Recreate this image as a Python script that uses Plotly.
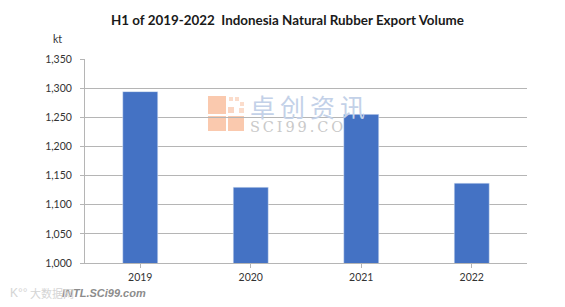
import plotly.graph_objects as go

categories = ["2019", "2020", "2021", "2022"]
export_volume = [1294, 1130, 1255, 1137]
tick_values = [1000, 1050, 1100, 1150, 1200, 1250, 1300, 1350]
title_text = "H1 of 2019-2022  Indonesia Natural Rubber Export Volume"

# page has an 8 px body margin, so the figure is 8 px smaller than the window
W, H = 557, 299
L, R, T, B = 85, 527, 59, 263   # plot area in window pixels
FONT = "Lato, Open Sans, sans-serif"
PW, PH = R - L, B - T

def fx(x): return (x - L) / PW
def fy(y): return (B - y) / PH

fig = go.Figure(go.Bar(x=categories, y=export_volume, marker_color="#4472C4", width=0.317))

shapes = []
for x0, y0, x1, y1, c in [
    (208, 96, 226, 114, "#FAC9AE"),
    (208, 116, 226, 131, "#FAC9AE"),
    (228, 116, 244, 131, "#FAC9AE"),
    (228, 107, 234, 113, "#FAD5C2"),
    (229, 97, 233, 101, "#FBDCCB"),
    (235, 97, 239, 101, "#FBDCCB"),
    (240, 102, 244, 106, "#FBDCCB"),
    (239, 108, 244, 113, "#FBDCCB"),
]:
    shapes.append(dict(type="rect", xref="paper", yref="paper", layer="below",
                       x0=fx(x0), x1=fx(x1), y0=fy(y1), y1=fy(y0),
                       fillcolor=c, line_width=0))

def note(text, x, y, size, color, family=FONT):
    return dict(text=text, xref="paper", yref="paper", x=fx(x), y=fy(y),
                xanchor="center", yanchor="middle", showarrow=False,
                font=dict(size=size, color=color, family=family))

annotations = [
    note("<b>" + title_text + "</b>", 287, 20, 13.4, "#1a1a1a"),
    note("kt", 57, 39, 10.5, "#333333"),
    note("卓\u2009创\u2009资\u2009讯", 307, 106, 25, "#C3D1E8", "Noto Sans CJK SC"),
    note("S\u2009C\u2009I\u20099\u20099\u2009.\u2009C\u2009O", 296, 127, 14.5, "#C9C9C9", "DejaVu Serif"),
    note("<b><i>INTL.SCi99.com</i></b>", 104, 293, 11, "#8c8c8c", "Liberation Sans"),
    note("大数据网", 52, 293, 11, "#d4d4d4", "Noto Sans CJK SC"),
    note("K°°", 19, 293, 12, "#d4d4d4", "Liberation Sans"),
]

fig.update_layout(
    width=W, height=H, autosize=False, showlegend=False,
    margin=dict(l=L - 8, r=W - (R - 8), t=T - 8, b=H - (B - 8)),
    paper_bgcolor="white", plot_bgcolor="white",
    font=dict(family=FONT, size=10.5, color="#333333"),
    shapes=shapes, annotations=annotations, bargap=0.683,
    xaxis=dict(type="category", ticks="outside", ticklen=4, tickcolor="#b5b5b5",
               showline=True, linecolor="#b5b5b5", showgrid=False,
               tickfont=dict(size=10.5, color="#333333")),
    yaxis=dict(range=[1000, 1350], tickvals=tick_values, tickformat=",d", ticks="outside",
               ticklen=4, tickcolor="#b5b5b5", showline=True, linecolor="#b5b5b5",
               ticklabelstandoff=6, gridcolor="#b5b5b5", gridwidth=1,
               tickfont=dict(size=10.5, color="#333333"), zeroline=False),
)
fig.write_html("out.html")
